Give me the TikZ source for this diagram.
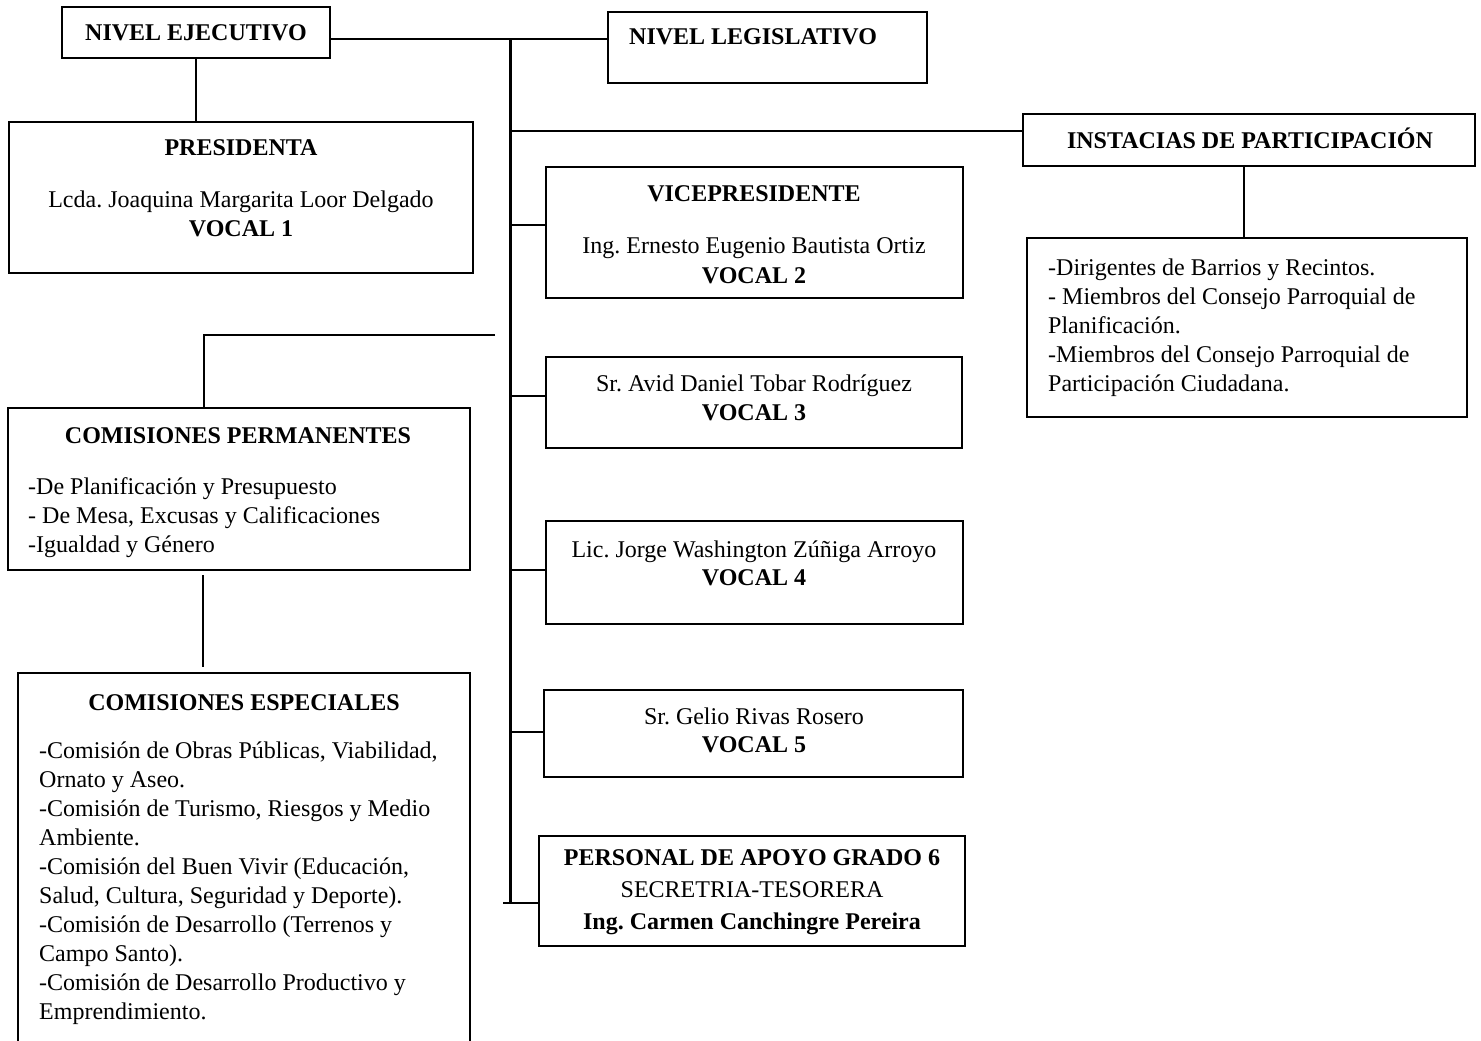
\documentclass[tikz,border=0pt]{standalone}
\usepackage{fontspec}
\setmainfont{Liberation Serif}
\usetikzlibrary{fit}
\frenchspacing
\newcommand\fsz{\fontsize{24}{29}\selectfont}
\tikzset{
 box/.style={draw, line width=1.5pt, inner sep=0pt},
 conn/.style={line width=2pt},
 spine/.style={line width=3pt},
 thinline/.style={line width=1.2pt},
 lbl/.style={inner sep=0pt, font=\fsz, anchor=base},
 blbl/.style={inner sep=0pt, font=\fsz\bfseries, anchor=base},
 lst/.style={inner sep=0pt, font=\fsz, anchor=north west, align=left},
}
\begin{document}
\begin{tikzpicture}[x=1pt,y=-1pt]
\useasboundingbox (0,0) rectangle (1481,1041);
\clip (0,0) rectangle (1481,1041);
\fill[white] (0,0) rectangle (1481,1041);
% boxes
\node[box, fit={(62,7) (330,58)}] (ej) {};
\node[box, fit={(608,12) (927,83)}] (leg) {};
\node[box, fit={(9,122) (473,273)}] (pres) {};
\node[box, fit={(1023,114) (1475,166)}] (inst) {};
\node[box, fit={(1027,238) (1467,417)}] (part) {};
\node[box, fit={(546,167) (963,298)}] (vice) {};
\node[box, fit={(546,357) (962,448)}] (v3) {};
\node[box, fit={(546,521) (963,624)}] (v4) {};
\node[box, fit={(544,690) (963,777)}] (v5) {};
\node[box, fit={(539,836) (965,946)}] (apoyo) {};
\node[box, fit={(8,408) (470,570)}] (perm) {};
\node[box, fit={(18,673) (470,1070)}] (esp) {};
% texts
\node[blbl] (tej) at (196,41) {NIVEL EJECUTIVO};
\node[blbl, anchor=base west] (tleg) at (629,45) {NIVEL LEGISLATIVO};
\node[blbl] (tpres1) at (241,155) {PRESIDENTA};
\node[lbl] (tpres2) at (241,207) {Lcda. Joaquina Margarita Loor Delgado};
\node[blbl] (tpres3) at (241,236) {VOCAL 1};
\node[blbl] (tinst) at (1250,148) {INSTACIAS DE PARTICIPACIÓN};
\node[lst] (tpart) at (1048,251) {\rule{0pt}{24pt}-Dirigentes de Barrios y Recintos.\\- Miembros del Consejo Parroquial de\\Planificación.\\-Miembros del Consejo Parroquial de\\Participación Ciudadana.};
\node[blbl] (tvice1) at (754,201) {VICEPRESIDENTE};
\node[lbl] (tvice2) at (754,253) {Ing. Ernesto Eugenio Bautista Ortiz};
\node[blbl] (tvice3) at (754,283) {VOCAL 2};
\node[lbl] (tv31) at (754,391) {Sr. Avid Daniel Tobar Rodríguez};
\node[blbl] (tv32) at (754,420) {VOCAL 3};
\node[lbl] (tv41) at (754,557) {Lic. Jorge Washington Zúñiga Arroyo};
\node[blbl] (tv42) at (754,585) {VOCAL 4};
\node[lbl] (tv51) at (754,724) {Sr. Gelio Rivas Rosero};
\node[blbl] (tv52) at (754,752) {VOCAL 5};
\node[blbl] (tap1) at (752,865) {PERSONAL DE APOYO GRADO 6};
\node[lbl] (tap2) at (752,897) {SECRETRIA-TESORERA};
\node[blbl] (tap3) at (752,929) {Ing. Carmen Canchingre Pereira};
\node[blbl] (tperm) at (238,443) {COMISIONES PERMANENTES};
\node[lst] (tpermL) at (28,470) {\rule{0pt}{24pt}-De Planificación y Presupuesto\\- De Mesa, Excusas y Calificaciones\\-Igualdad y Género};
\node[blbl] (tesp) at (244,710) {COMISIONES ESPECIALES};
\node[lst] (tespL) at (39,734) {\rule{0pt}{24pt}-Comisión de Obras Públicas, Viabilidad,\\Ornato y Aseo.\\-Comisión de Turismo, Riesgos y Medio\\Ambiente.\\-Comisión del Buen Vivir (Educación,\\Salud, Cultura, Seguridad y Deporte).\\-Comisión de Desarrollo (Terrenos y\\Campo Santo).\\-Comisión de Desarrollo Productivo y\\Emprendimiento.};
% junction coordinates
\coordinate (sTop) at (510,39);
\coordinate (sBot) at (510,903);
\coordinate (sBotL) at (503,903);
\coordinate (j1) at (510,131);
\coordinate (j2) at (510,225);
\coordinate (j3) at (510,396);
\coordinate (j4) at (510,570);
\coordinate (j5) at (510,732);
\coordinate (ip) at (1244,0);
\coordinate (pEnd) at (495,335);
\coordinate (pc) at (204,335);
\coordinate (pe1) at (203,575);
\coordinate (pe2) at (203,667);
% connectors
\draw[conn, line width=2.5pt] (ej.east |- sTop) -- (leg.west |- sTop);
\draw[spine] (sTop) -- (sBot);
\draw[conn] (ej.south) -- (ej.south |- pres.north);
\draw[thinline] (j1) -- (inst.west |- j1);
\draw[conn] (inst.south -| ip) -- (part.north -| ip);
\draw[conn] (j2) -- (vice.west |- j2);
\draw[conn] (j3) -- (v3.west |- j3);
\draw[conn] (j4) -- (v4.west |- j4);
\draw[conn] (j5) -- (v5.west |- j5);
\draw[conn] (sBotL) -- (apoyo.west |- sBotL);
\draw[conn] (pEnd) -- (pc) -- (pc |- perm.north);
\draw[conn] (pe1) -- (pe2);
\end{tikzpicture}
\end{document}
